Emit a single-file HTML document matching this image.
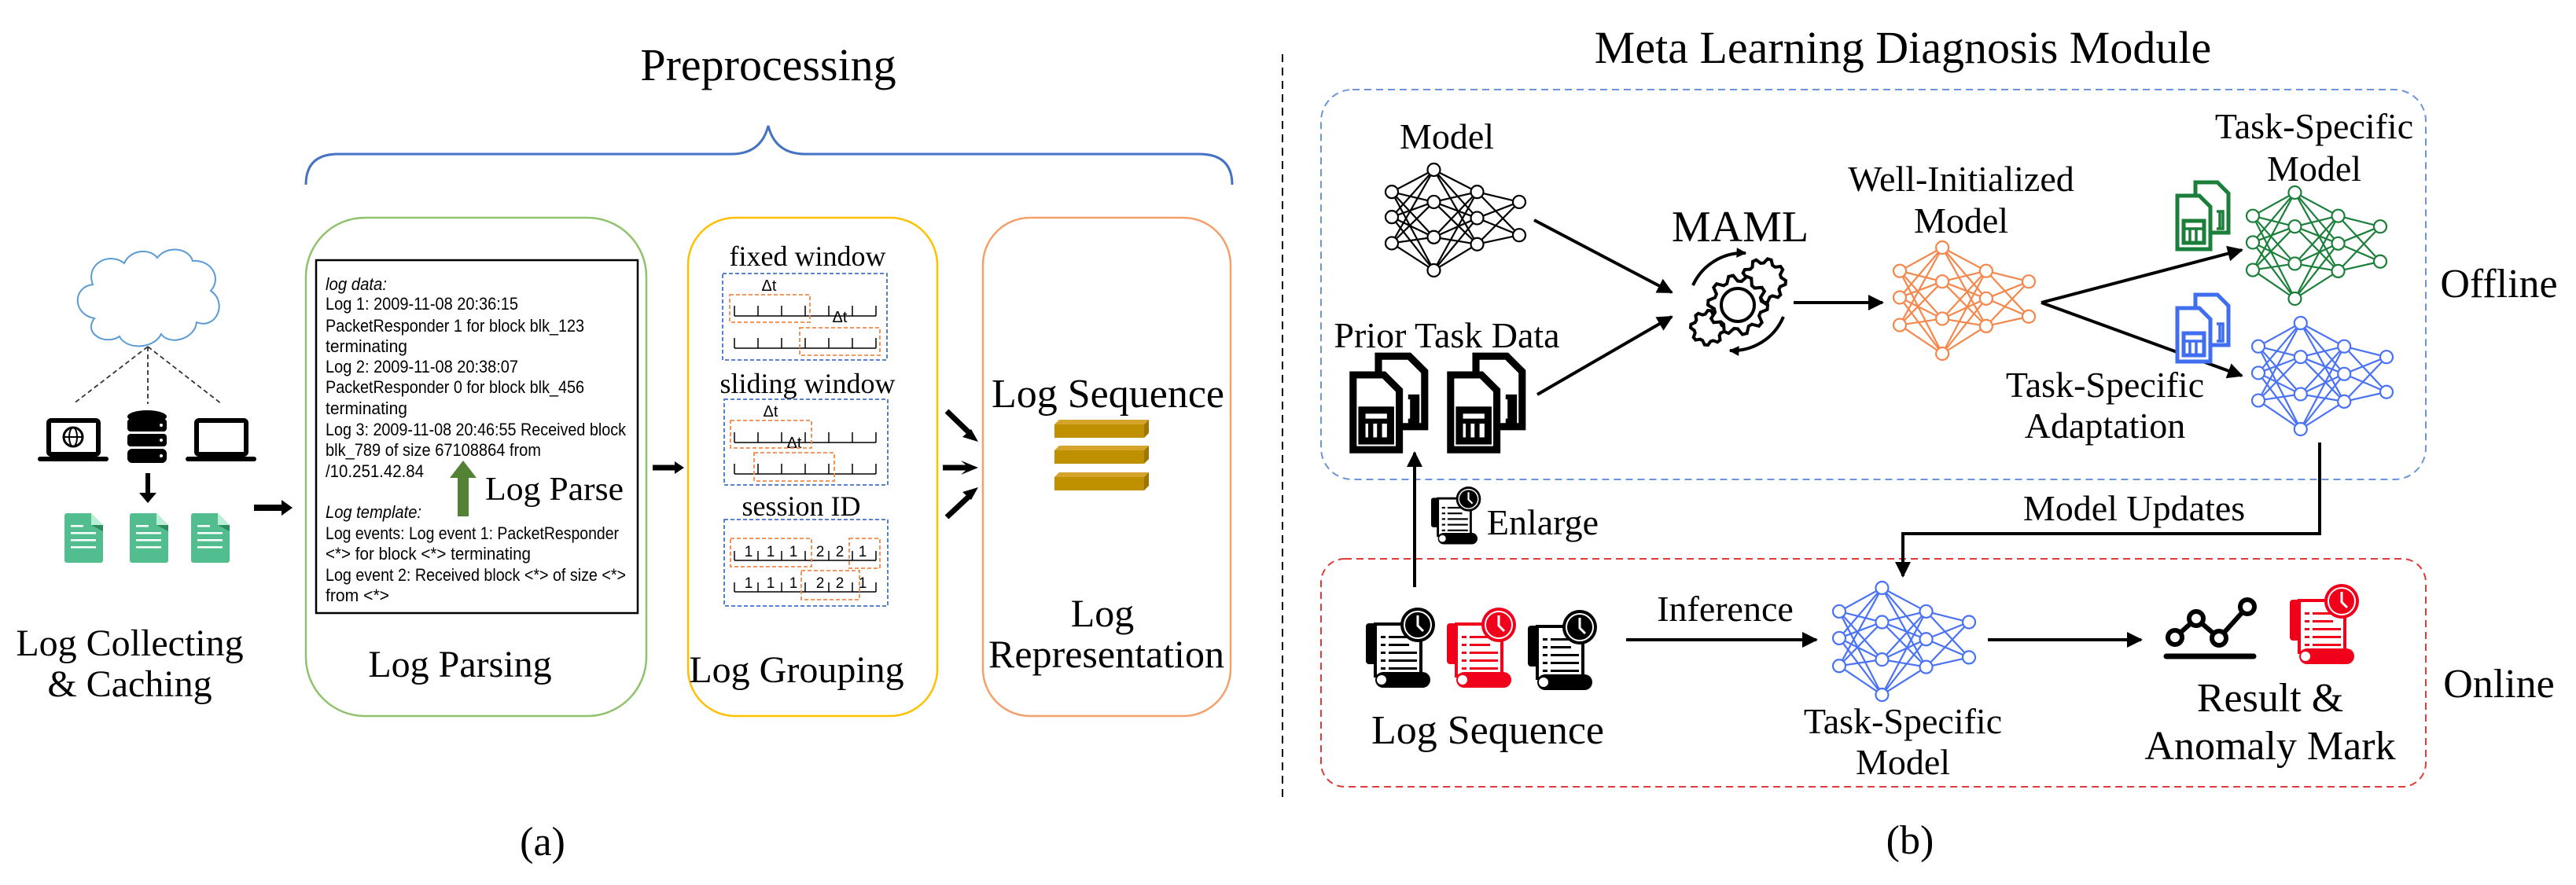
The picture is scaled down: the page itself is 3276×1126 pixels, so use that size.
<!DOCTYPE html>
<html><head><meta charset="utf-8"><style>html,body{margin:0;padding:0;background:#fff}svg{display:block}
svg text{font-family:"Liberation Serif","Times New Roman",Times,"Nimbus Roman","Nimbus Roman No9 L","DejaVu Serif",serif}
svg text.sans{font-family:"Liberation Sans",Arial,sans-serif}</style></head>
<body>
<svg id="s" xmlns="http://www.w3.org/2000/svg" width="3276" height="1126" viewBox="0 0 3276 1126">
<defs>
<marker id="ah" viewBox="0 0 10 10" refX="9" refY="5" markerWidth="5" markerHeight="5" orient="auto"><path d="M0,0L10,5L0,10z" fill="#000"/></marker>
<marker id="ah2" viewBox="0 0 10 10" refX="9" refY="5" markerWidth="3.2" markerHeight="3.2" orient="auto"><path d="M0,0L10,5L0,10z" fill="#000"/></marker>
</defs>
<text x="977" y="102" font-size="58" text-anchor="middle">Preprocessing</text>
<path d="M389,235 Q389,196 430,196 L930,196 Q968,196 977,160 Q986,196 1024,196 L1525,196 Q1567,196 1567,235" fill="none" stroke="#4472C4" stroke-width="3"/>

<path d="M120,405 C92,400 92,365 118,362 C108,335 140,320 158,335 C165,318 190,315 200,328 C212,312 240,315 245,332 C270,330 282,355 268,370 C290,385 275,420 250,410 C248,432 215,440 205,425 C195,445 160,445 152,428 C135,440 105,425 120,405 Z" fill="#fff" stroke="#5b9bd5" stroke-width="2"/>
<g stroke="#333" stroke-width="1.8" stroke-dasharray="6,4" fill="none">
<line x1="188" y1="441" x2="93" y2="514"/><line x1="188" y1="441" x2="188" y2="514"/><line x1="188" y1="441" x2="282" y2="514"/></g>
<rect x="62" y="535" width="63" height="43" fill="#fff" stroke="#000" stroke-width="6" rx="3"/>
<rect x="48" y="581" width="90" height="6" rx="3" fill="#000"/>
<circle cx="93" cy="556" r="12" fill="none" stroke="#000" stroke-width="3"/><ellipse cx="93" cy="556" rx="5" ry="12" fill="none" stroke="#000" stroke-width="2"/><line x1="81" y1="556" x2="105" y2="556" stroke="#000" stroke-width="2"/>
<rect x="250" y="535" width="63" height="43" fill="#fff" stroke="#000" stroke-width="6" rx="3"/>
<rect x="236" y="581" width="90" height="6" rx="3" fill="#000"/>
<g fill="#000"><ellipse cx="187" cy="530" rx="25" ry="8"/><rect x="162" y="533" width="50" height="16" rx="4"/><rect x="162" y="552" width="50" height="16" rx="4"/><rect x="162" y="571" width="50" height="18" rx="6"/></g>
<g fill="#fff"><circle cx="205" cy="541" r="2"/><circle cx="205" cy="560" r="2"/><circle cx="205" cy="580" r="2"/></g>
<line x1="188" y1="602" x2="188" y2="630" stroke="#000" stroke-width="6"/><path d="M177,627L199,627L188,640z" fill="#000"/>
<g id="gdocs"></g>
<line x1="323" y1="646" x2="360" y2="646" stroke="#000" stroke-width="8"/><path d="M358,636L372,646L358,656z" fill="#000"/>
<text x="165" y="834" font-size="48" text-anchor="middle">Log Collecting</text>
<text x="165" y="886" font-size="48" text-anchor="middle">&amp; Caching</text>

<rect x="389" y="277" width="433" height="634" rx="75" fill="none" stroke="#8fc26a" stroke-width="2.5"/>
<rect x="402" y="331" width="409" height="449" fill="#fff" stroke="#000" stroke-width="2.5"/>
<g font-size="22" id="lt"></g>
<line x1="589" y1="657" x2="589" y2="606" stroke="#548235" stroke-width="14"/><path d="M572,608L589,586L606,608z" fill="#548235"/>
<text x="705" y="636" font-size="42" text-anchor="middle" textLength="176" lengthAdjust="spacingAndGlyphs">Log Parse</text>
<text x="585" y="861" font-size="48" text-anchor="middle">Log Parsing</text>
<line x1="830" y1="595" x2="860" y2="595" stroke="#000" stroke-width="7"/><path d="M858,587L870,595L858,603z" fill="#000"/>

<rect x="875" y="277" width="317" height="634" rx="60" fill="none" stroke="#ffc000" stroke-width="2.5"/>
<g id="grp"></g>
<text x="1013" y="868" font-size="48" text-anchor="middle">Log Grouping</text>

<g stroke="#000" stroke-width="7"><line x1="1204" y1="523" x2="1234" y2="552"/><line x1="1199" y1="595" x2="1234" y2="595"/><line x1="1204" y1="658" x2="1234" y2="630"/></g>
<path d="M1232,595l-10,-9l22,9l-22,9z" fill="#000"/>
<path d="M1244,562l-20,-6l11,-10z" fill="#000"/><path d="M1244,620l-9,16l-11,-10z" fill="#000"/>

<rect x="1250" y="277" width="315" height="634" rx="60" fill="none" stroke="#f4a06b" stroke-width="2.5"/>
<text x="1409" y="518" font-size="52" text-anchor="middle">Log Sequence</text>
<g id="bars"></g>
<text x="1402" y="797" font-size="50" text-anchor="middle">Log</text>
<text x="1407" y="849" font-size="50" text-anchor="middle">Representation</text>
<text x="690" y="1088" font-size="52" text-anchor="middle">(a)</text>

<line x1="1631" y1="69" x2="1631" y2="1018" stroke="#000" stroke-width="2" stroke-dasharray="10,7"/>

<text x="2420" y="80" font-size="58" text-anchor="middle">Meta Learning Diagnosis Module</text>
<rect x="1680" y="114" width="1405" height="496" rx="40" fill="none" stroke="#6d94d8" stroke-width="2" stroke-dasharray="9,6"/>
<rect x="1680" y="711" width="1405" height="290" rx="30" fill="none" stroke="#e03a3a" stroke-width="2" stroke-dasharray="9,6"/>
<text x="1840" y="189" font-size="46" text-anchor="middle">Model</text>
<text x="1840" y="442" font-size="46" text-anchor="middle">Prior Task Data</text>
<text x="2213" y="307" font-size="56" text-anchor="middle">MAML</text>
<text x="2494" y="243" font-size="46" text-anchor="middle">Well-Initialized</text>
<text x="2494" y="296" font-size="46" text-anchor="middle">Model</text>
<text x="2943" y="176" font-size="46" text-anchor="middle">Task-Specific</text>
<text x="2943" y="230" font-size="46" text-anchor="middle">Model</text>
<text x="2677" y="505" font-size="46" text-anchor="middle">Task-Specific</text>
<text x="2677" y="557" font-size="46" text-anchor="middle">Adaptation</text>
<text x="3178" y="378" font-size="52" text-anchor="middle">Offline</text>
<text x="3178" y="887" font-size="52" text-anchor="middle">Online</text>
<text x="2714" y="662" font-size="46" text-anchor="middle">Model Updates</text>
<text x="1962" y="680" font-size="46" text-anchor="middle">Enlarge</text>
<text x="1892" y="946" font-size="52" text-anchor="middle">Log Sequence</text>
<text x="2194" y="790" font-size="46" text-anchor="middle">Inference</text>
<text x="2420" y="933" font-size="46" text-anchor="middle">Task-Specific</text>
<text x="2420" y="985" font-size="46" text-anchor="middle">Model</text>
<text x="2887" y="905" font-size="52" text-anchor="middle">Result &amp;</text>
<text x="2887" y="966" font-size="52" text-anchor="middle">Anomaly Mark</text>
<text x="2429" y="1086" font-size="52" text-anchor="middle">(b)</text>

<g stroke="#000" stroke-width="4" fill="none" marker-end="url(#ah)">
<line x1="1951" y1="280" x2="2126" y2="372"/>
<line x1="1955" y1="502" x2="2126" y2="403"/>
<line x1="2281" y1="385" x2="2394" y2="385"/>
<line x1="2596" y1="385" x2="2851" y2="318"/>
<line x1="2596" y1="385" x2="2851" y2="478"/>
<line x1="2068" y1="814" x2="2310" y2="814"/>
<line x1="2528" y1="814" x2="2723" y2="814"/>
<line x1="1799" y1="747" x2="1799" y2="576"/>
<polyline points="2950,563 2950,679 2420,679 2420,733"/>
</g>
<g id="nns"></g>
<g id="gear" fill="none" stroke="#000" stroke-width="4"></g>
<g id="icons"></g>
<g stroke="#000" stroke-width="6" fill="#fff">
<polyline points="2766,811 2793,787 2822,812 2858,772" fill="none"/>
<circle cx="2766" cy="811" r="9"/><circle cx="2793" cy="787" r="9"/><circle cx="2822" cy="812" r="9"/><circle cx="2858" cy="772" r="9"/>
<line x1="2755" y1="835" x2="2866" y2="835" stroke-width="7" stroke-linecap="round"/></g>
</svg>
<script>
var NS="http://www.w3.org/2000/svg";
function el(p,t,a,txt){var e=document.createElementNS(NS,t);for(var k in a)e.setAttribute(k,a[k]);if(txt!=null)e.textContent=txt;p.appendChild(e);return e;}
var gd=document.getElementById('gdocs');
[82,165,243].forEach(function(x){
 el(gd,'path',{d:'M'+x+',653 h34 l15,15 v45 a3,3 0 0 1 -3,3 h-43 a3,3 0 0 1 -3,-3 v-57 a3,3 0 0 1 3,-3z',fill:'#52be8f'});
 el(gd,'path',{d:'M'+(x+34)+',653 l15,15 h-15z',fill:'#b9efd6'});
 el(gd,'path',{d:'M'+(x+34)+',668 h15 v8z',fill:'#2e8b60'});
 [668,677,686,695].forEach(function(y,i){el(gd,'rect',{x:x+8,y:y,width:i==0?16:32,height:2.5,fill:'#fff'});});
});
var lt=document.getElementById('lt');
var L=[["log data:",78,361,1],["Log 1: 2009-11-08 20:36:15",245,386],["PacketResponder 1 for block blk_123",329,414],["terminating",104,440],["Log 2: 2009-11-08 20:38:07",245,466],["PacketResponder 0 for block blk_456",329,492],["terminating",104,519],["Log 3: 2009-11-08 20:46:55 Received block",382,546],["blk_789 of size 67108864 from",274,572],["/10.251.42.84",125,599],["Log template:",122,651,1],["Log events: Log event 1: PacketResponder",373,678],["<*> for block <*> terminating",261,704],["Log event 2: Received block <*> of size <*>",382,731],["from <*>",81,757]];
L.forEach(function(l){var a={x:414,y:l[2]+8,textLength:l[1],lengthAdjust:'spacingAndGlyphs','class':'sans'};if(l[3])a['font-style']='italic';el(lt,'text',a,l[0]);});
var g=document.getElementById('grp');
function tt(x,y,s,a,fs,sans){var o={x:x,y:y,'font-size':fs,'text-anchor':a||'middle'};if(sans)o['class']='sans';el(g,'text',o,s);}
tt(1027,338,'fixed window',null,36);tt(1027,500,'sliding window',null,36);tt(1019,656,'session ID',null,36);
function box(x1,y1,x2,y2,c){el(g,'rect',{x:x1,y:y1,width:x2-x1,height:y2-y1,fill:'none',stroke:c,'stroke-width':1.8,'stroke-dasharray':'5,3'});}
box(919,348,1128,458,'#4472c4');box(921,508,1129,617,'#4472c4');box(921,661,1129,771,'#4472c4');
function tl(y,h){el(g,'line',{x1:934,y1:y,x2:1114,y2:y,stroke:'#000','stroke-width':1.5});for(var i=0;i<7;i++){var x=934+i*30;el(g,'line',{x1:x,y1:y,x2:x,y2:y-h,stroke:'#000','stroke-width':1.5});}}
tl(402,13);tl(443,13);tl(563,13);tl(603,13);tl(713,12);tl(753,12);
tt(978,370,'Δt',null,20,1);tt(1068,410,'Δt',null,20,1);tt(980,530,'Δt',null,20,1);tt(1010,570,'Δt',null,20,1);
[952,980,1009,1043,1068,1097].forEach(function(x,i){tt(x,708,i<3||i==5?'1':'2',null,19,1);tt(x,748,i<3||i==5?'1':'2',null,19,1);});
var oc='#f08a4b';
box(928,375,1030,410,oc);box(1017,417,1119,452,oc);box(929,535,1032,570,oc);box(959,576,1061,612,oc);box(929,685,1032,721,oc);box(1080,685,1119,723,oc);box(1019,726,1093,763,oc);
var b=document.getElementById('bars');
[534,567,601].forEach(function(y){
 el(b,'path',{d:'M1341,'+(y+6)+' l6,-6 h114 l-6,6z',fill:'#d4a52a'});
 el(b,'rect',{x:1341,y:y+6,width:114,height:17,fill:'#bf9000'});
 el(b,'path',{d:'M1455,'+(y+6)+' l6,-6 v17 l-6,6z',fill:'#9c7600'});
});
var nn=document.getElementById('nns');
function NN(x,y,w,h,c){var cols=[[.22,.47,.73],[0,.32,.67,1],[.22,.48,.74],[.32,.65]],cx=[0,.33,.67,1];var r=8;var pts=cols.map(function(cl,i){return cl.map(function(v){return [x+r+cx[i]*(w-2*r),y+r+v*(h-2*r)];});});
 var G=el(nn,'g',{stroke:c,'stroke-width':2.2,fill:'#fff'});
 for(var i=0;i<3;i++)pts[i].forEach(function(a){pts[i+1].forEach(function(q){el(G,'line',{x1:a[0],y1:a[1],x2:q[0],y2:q[1]});});});
 pts.forEach(function(cl){cl.forEach(function(p){el(G,'circle',{cx:p[0],cy:p[1],r:r});});});}
NN(1762,208,178,144,'#000');NN(2408,307,180,151,'#f4874b');NN(2857,237,178,151,'#1b7f3a');NN(2864,403,179,151,'#4a72f5');NN(2331,740,181,152,'#4a72f5');
var gr=document.getElementById('gear');
function gearPath(cx,cy,R,n){var d='',r2=R*0.8;for(var i=0;i<n*4;i++){var a=i/(n*4)*Math.PI*2;var rr=(i%4<2)?R:r2;d+=(i?'L':'M')+(cx+rr*Math.cos(a)).toFixed(1)+','+(cy+rr*Math.sin(a)).toFixed(1);}return d+'Z';}
el(gr,'path',{d:gearPath(2243,357,28,9)});el(gr,'path',{d:gearPath(2172,417,22,8)});
el(gr,'path',{d:gearPath(2210,388,38,10),fill:'#fff'});el(gr,'circle',{cx:2210,cy:388,r:21});
el(gr,'path',{d:'M2153,363 A70,70 0 0 1 2220,322','marker-end':'url(#ah2)'});
el(gr,'path',{d:'M2268,403 A70,70 0 0 1 2200,446','marker-end':'url(#ah2)'});
var ic=document.getElementById('icons');
function logIcon(x,y,s,c){var G=el(ic,'g',{transform:'translate('+x+','+y+') scale('+s+')'});
 el(G,'rect',{x:0,y:20,width:18,height:52,rx:4,fill:c});
 el(G,'rect',{x:12,y:21,width:58,height:66,fill:'#fff',stroke:c,'stroke-width':4});
 for(var i=0;i<5;i++){var yy=36+i*10;el(G,'rect',{x:19,y:yy,width:6,height:3,fill:c});el(G,'rect',{x:29,y:yy,width:i<2?26:36,height:3,fill:c});}
 el(G,'rect',{x:12,y:82,width:70,height:20,rx:10,fill:c});el(G,'circle',{cx:20,cy:92,r:6,fill:'#fff'});
 el(G,'circle',{cx:66,cy:22,r:22,fill:c});el(G,'circle',{cx:66,cy:22,r:17,fill:'none',stroke:'#fff','stroke-width':2});
 el(G,'path',{d:'M66,10 V23 L73,30',fill:'none',stroke:'#fff','stroke-width':3});}
logIcon(1820,619,0.72,'#000');
logIcon(1737,773,1.0,'#000');logIcon(1840,773,1.0,'#f0001a');logIcon(1943,776,1.0,'#000');
logIcon(2912,743,1.0,'#f0001a');
function docPair(x,y,s,c,sw){var G=el(ic,'g',{transform:'translate('+x+','+y+') scale('+s+')',fill:'none',stroke:c,'stroke-width':sw});
 el(G,'path',{d:'M25,3 h28 l14,14 v50 h-42z',fill:'#fff'});
 el(G,'path',{d:'M2,20 h28 l14,14 v54 h-42z',fill:'#fff'});
 el(G,'rect',{x:10,y:52,width:26,height:28});
 el(G,'path',{d:'M10,62 h26 M18,62 v18 M26,62 v18',"stroke-width":sw*0.7});
 el(G,'path',{d:'M52,40 h8 v22 h-8 M56,40 v22',"stroke-width":sw*0.7});}
docPair(1718,449,1.4,'#000',6.5);docPair(1842,449,1.4,'#000',6.5);
docPair(2767,229,1.0,'#1b7f3a',5);docPair(2767,372,1.0,'#3f6ff0',5);
</script>
</body></html>
